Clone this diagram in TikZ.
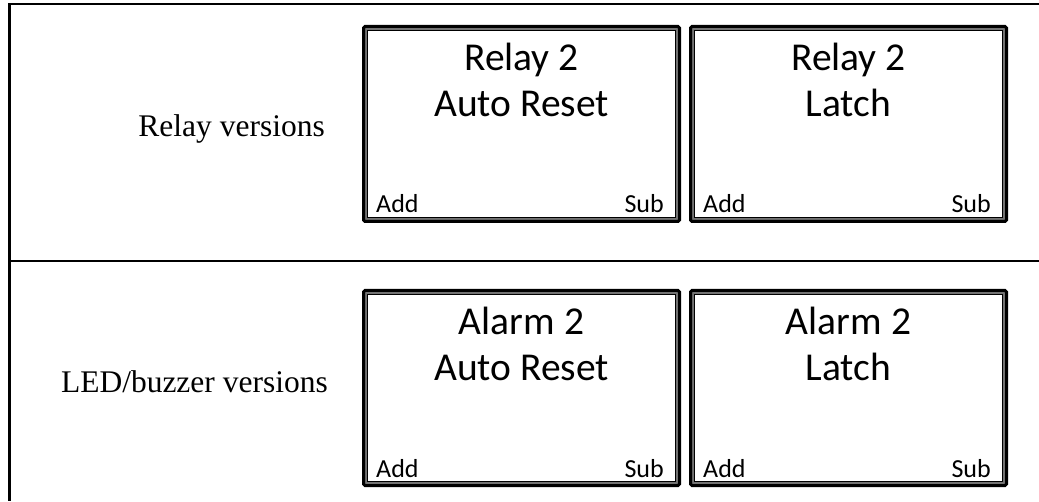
\documentclass[tikz,border=0pt]{standalone}
\usepackage{fontspec}
\setmainfont{Liberation Serif}
\newfontfamily\lcdfont{Carlito}
\usetikzlibrary{positioning,calc}
\tikzset{
  % tabell
  frame/.style={draw=black,line width=2.5pt},
  rowlabel/.style={font=\fontsize{31.5}{36}\selectfont,inner sep=0pt},
  % displayer
  screen/.style={rectangle,draw=black,line width=3pt,rounded corners=1.5pt,
    minimum width=316pt,minimum height=195pt,inner sep=0pt,
    path picture={
      \draw[black!55,line width=2pt,sharp corners]
        ([shift={(2.5pt,2.5pt)}]path picture bounding box.south west) rectangle
        ([shift={(-2.5pt,-2.5pt)}]path picture bounding box.north east);
      \draw[black,line width=0.8pt,sharp corners]
        ([shift={(3.9pt,3.9pt)}]path picture bounding box.south west) rectangle
        ([shift={(-3.9pt,-3.9pt)}]path picture bounding box.north east);
    }},
  scrtitle/.style={font=\lcdfont\fontsize{39.5}{46}\selectfont,inner sep=0pt,anchor=base},
  softkey/.style={font=\lcdfont\fontsize{26}{30}\selectfont,inner sep=0pt},
}
\begin{document}
\begin{tikzpicture}[x=1pt,y=1pt]
  \useasboundingbox (0,0) rectangle (1039,501);
  % ramar
  \draw[frame] (1039,497) -- (9.5,497) -- (9.5,0);
  \draw[frame] (9.5,240) -- (1039,240);
  % displayer
  \foreach \nm/\cx/\cy/\ta/\tb in {relayauto/521.5/377/Relay 2/Auto Reset,
      relaylatch/848.5/377/Relay 2/Latch,alarmauto/521.5/113/Alarm 2/Auto Reset,
      alarmlatch/848.5/113/Alarm 2/Latch} {
    \node[screen] (\nm) at (\cx,\cy) {};
    \node[scrtitle] (\nm-ta) at ([yshift=-45.5]\nm.north) {\ta};
    \node[scrtitle] (\nm-tb) at ([yshift=-92]\nm.north) {\tb};
    \node[softkey,anchor=base west] (\nm-add) at ([shift={(14,10)}]\nm.south west) {Add};
    \node[softkey,anchor=base east] (\nm-sub) at ([shift={(-17,10)}]\nm.south east) {Sub};
  }
  \node[rowlabel,anchor=base east] (relaylbl) at ([shift={(-37,-13)}]relayauto.west) {Relay versions};
  \node[rowlabel,anchor=base east] (ledlbl) at ([shift={(-34,-5)}]alarmauto.west) {LED/buzzer versions};
\end{tikzpicture}
\end{document}
